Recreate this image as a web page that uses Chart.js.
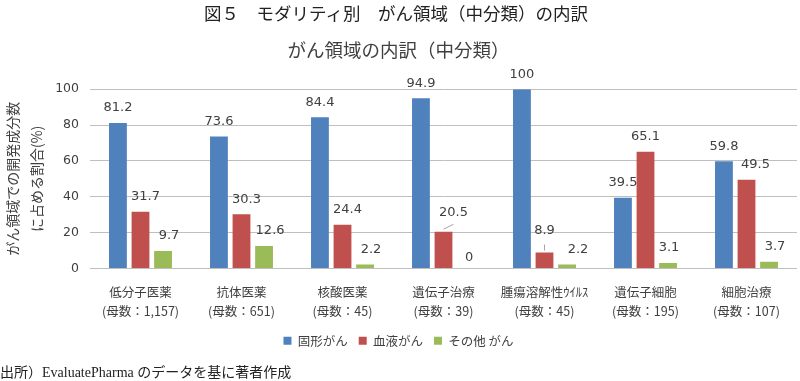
<!DOCTYPE html>
<html><head><meta charset="utf-8">
<script src="https://cdn.jsdelivr.net/npm/chart.js@4.4.1/dist/chart.umd.min.js"></script>
<style>
html,body{margin:0;padding:0;background:#fff;}
#wrap{position:relative;width:800px;height:381px;overflow:hidden;background:#fff;}
#fig{position:absolute;left:-4px;width:800px;top:1px;text-align:center;font:17.5px "Noto Sans CJK JP";color:#222;line-height:24px;white-space:nowrap;}
#src{position:absolute;left:0;top:363px;font:14px "Liberation Serif","Noto Sans CJK JP";color:#222;line-height:20px;white-space:nowrap;}
canvas{position:absolute;left:0;top:0;}
</style></head>
<body>
<div id="wrap">
<canvas id="c" width="800" height="381"></canvas>
<div id="fig">図５　モダリティ別　がん領域（中分類）の内訳</div>
<div id="src">出所）EvaluatePharma のデータを基に著者作成</div>
</div>
<script>
const categories = ['低分子医薬','抗体医薬','核酸医薬','遺伝子治療','腫瘍溶解性ｳｲﾙｽ','遺伝子細胞','細胞治療'];
const sampleSizes = ['(母数：1,157)','(母数：651)','(母数：45)','(母数：39)','(母数：45)','(母数：195)','(母数：107)'];
const seriesNames = ['固形がん','血液がん','その他 がん'];
const solidValues = [81.2,73.6,84.4,94.9,100,39.5,59.8];
const bloodValues = [31.7,30.3,24.4,20.5,8.9,65.1,49.5];
const otherValues = [9.7,12.6,2.2,0,2.2,3.1,3.7];
const yTicks = [0,20,40,60,80,100];
const chartTitle = 'がん領域の内訳（中分類）';
const yTitle = ['がん領域での開発成分数','に占める割合(%)'];

const colors = ['#4F81BD','#C0504D','#9BBB59'];
const CJK = '"Noto Sans CJK JP", "Noto Sans", sans-serif';

const labelPlugin = {
  id: 'barLabels',
  afterDatasetsDraw(chart, args, opts) {
    const ctx = chart.ctx;
    ctx.save();
    ctx.font = opts.font;
    ctx.fillStyle = opts.color;
    ctx.textAlign = 'center';
    ctx.textBaseline = 'middle';
    chart.data.datasets.forEach((ds, di) => {
      const meta = chart.getDatasetMeta(di);
      meta.data.forEach((bar, i) => {
        const v = ds.data[i];
        const adj = (opts.adjust || []).find(a => a.d === di && a.i === i) || {};
        const dx = adj.dx !== undefined ? adj.dx : opts.dx[di];
        const dy = adj.dy !== undefined ? adj.dy : opts.dy;
        ctx.fillText(String(v), bar.x + dx, bar.y + dy);
        if (adj.leader) {
          ctx.strokeStyle = opts.leaderColor;
          ctx.lineWidth = 1;
          ctx.beginPath();
          ctx.moveTo(bar.x + adj.leader[0], bar.y + adj.leader[1]);
          ctx.lineTo(bar.x + adj.leader[2], bar.y + adj.leader[3]);
          ctx.stroke();
        }
      });
    });
    ctx.restore();
  }
};

const datasetValues = [solidValues, bloodValues, otherValues];

new Chart(document.getElementById('c'), {
  type: 'bar',
  data: {
    labels: categories.map((c, i) => [c, sampleSizes[i]]),
    datasets: datasetValues.map((vals, k) => ({
      label: seriesNames[k],
      data: vals,
      backgroundColor: colors[k],
      borderWidth: 0,
      categoryPercentage: 0.67,
      barPercentage: 0.79
    }))
  },
  options: {
    responsive: false,
    animation: false,
    devicePixelRatio: 1,
    layout: { padding: { top: 39, right: 3, bottom: 24, left: 0 } },
    plugins: {
      title: {
        display: true, text: chartTitle, color: '#404040',
        font: { family: CJK, size: 18.5, weight: 'normal', lineHeight: 1.2 },
        padding: { top: 0, bottom: 28 }
      },
      legend: {
        position: 'bottom',
        labels: {
          boxWidth: 8, boxHeight: 8, padding: 11, color: '#404040',
          font: { family: CJK, size: 12.5 }
        }
      },
      tooltip: { enabled: false },
      barLabels: {
        font: '13px "DejaVu Sans"', color: '#404040', leaderColor: '#A6A6A6',
        dx: [0, 5, 6], dy: -15,
        adjust: [
          { d: 1, i: 3, dx: 10, dy: -19.5, leader: [0, -2.5, 10, -7.5] },
          { d: 1, i: 4, dx: 0, dy: -22, leader: [0, -8, 0, -2] },
          { d: 1, i: 5, dx: 0 },
          { d: 1, i: 6, dx: 9 },
          { d: 2, i: 3, dx: 3, dy: -11 },
          { d: 2, i: 4, dx: 11 },
          { d: 2, i: 5, dx: 1 }
        ]
      }
    },
    scales: {
      x: {
        grid: { display: false, drawTicks: false },
        border: { display: false },
        ticks: {
          color: '#404040', padding: 14, maxRotation: 0, autoSkip: false,
          font: { family: CJK, size: 12.5, lineHeight: 1.55 }
        },
        afterFit(scale) { scale.height = 55; }
      },
      y: {
        min: 0, max: 100,
        afterBuildTicks(scale) { scale.ticks = yTicks.map(v => ({ value: v })); },
        grid: { color: '#BFBFBF', drawTicks: false, lineWidth: 1 },
        border: { display: false },
        ticks: {
          color: '#404040', padding: 11,
          font: { family: '"DejaVu Sans"', size: 12.5 }
        },
        title: {
          display: true, text: yTitle, color: '#404040',
          font: { family: CJK, size: 14, lineHeight: 1.7 },
          padding: { top: 1, bottom: 0 }
        },
        afterFit(scale) { scale.width = 90; }
      }
    }
  },
  plugins: [labelPlugin]
});
</script>
</body></html>
